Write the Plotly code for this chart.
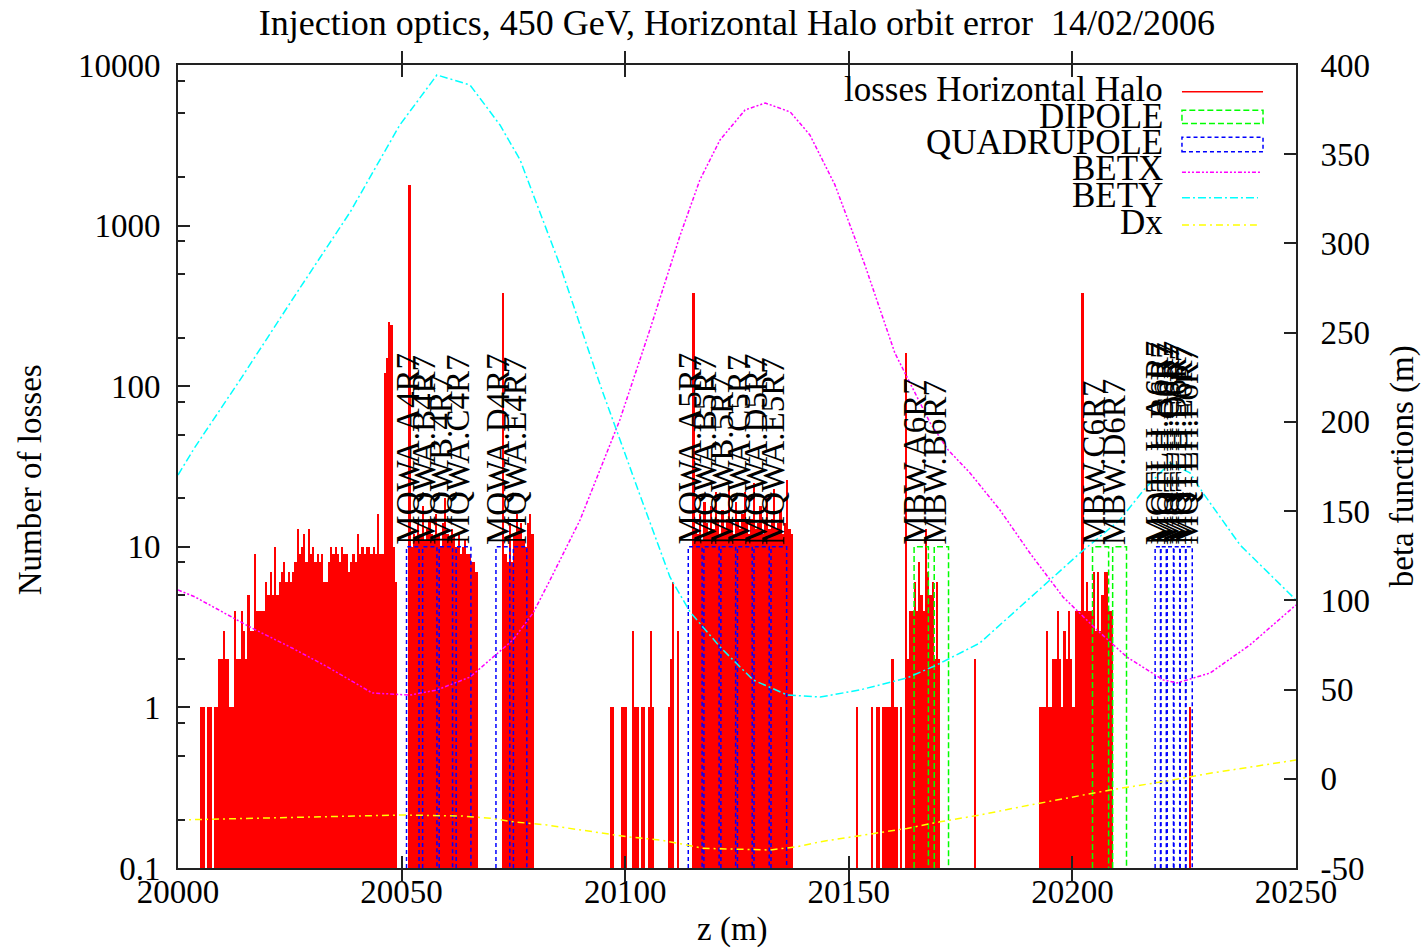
import math
import plotly.graph_objects as go

# ---------------- data ----------------
BIN = 0.5  # m, loss histogram bin width

# losses per 0.5 m bin; each list starts at the z given just above it
loss_start_a = 20005.0
loss_vals_a = [1, 1, 0, 1, 1, 0, 1, 1, 2, 2, 3, 2, 2, 1, 1,
               4, 2, 2, 4, 3, 2, 5, 3, 3, 9, 4, 4, 4, 4, 6, 5, 7, 5,
               10, 5, 6, 7, 8, 6, 7, 6, 7, 8, 13, 9, 10, 12, 8, 13, 9,
               10, 8, 9, 8, 9, 6, 6, 8, 10, 9, 10, 9, 8, 10, 9, 9, 7, 8, 9, 8, 12, 9, 10,
               9, 10, 10, 9, 10, 9, 16, 9, 9, 120, 150, 250, 240, 10, 6]
loss_start_b = 20051.5
loss_vals_b = [1800, 10, 12, 11, 14, 12, 18, 11, 13, 15, 12, 11, 16, 12, 10, 14,
               20, 12, 11, 13, 12, 10, 12, 9, 10, 11, 9, 9, 8, 8, 7]
loss_start_c = 20072.5
loss_vals_c = [380, 9, 8, 14, 8, 12, 16, 13, 14, 11, 10, 14, 16, 12]
loss_start_d = 20096.5
loss_vals_d = [1, 1, 0, 0, 0, 1, 1, 1, 0, 0, 3, 1, 1, 0, 1, 1, 0, 1, 3, 1,
               0, 0, 0, 0, 0, 0, 1, 2, 6, 0, 3]
loss_start_e = 20115.0
loss_vals_e = [380, 13, 12, 16, 11, 19, 14, 12, 18, 13, 22, 15, 12, 17, 13,
               15, 24, 14, 12, 19, 15, 13, 16, 22, 14, 12, 15, 25, 13, 14,
               18, 12, 14, 20, 13, 15, 23, 13, 14, 17, 12, 14, 26, 13, 12]
loss_start_f = 20151.5
loss_vals_f = [1, 0, 0, 0, 0, 0, 0, 1, 0, 1, 1, 0, 1, 1, 1, 1, 2, 1, 1, 0, 1, 0,
               160, 2, 4, 4, 6, 4, 8, 5, 4, 13, 7, 5, 6, 2, 6, 2]
loss_start_g = 20178.0
loss_vals_g = [2]
loss_start_h = 20192.5
loss_vals_h = [1, 1, 1, 3, 1, 1, 2, 2, 4, 2, 1, 3, 2, 4, 2, 1, 4, 4, 4, 380,
               4, 6, 4, 4, 7, 3, 7, 3, 5, 7, 7, 4, 4]
loss_start_i = 20226.0
loss_vals_i = [1]

# magnets
magnet_height = 10
quad_names = ["MQWA.A4R7", "MQWA.B4R7", "MQWB.4R7", "MQWA.C4R7", "MQWA.D4R7", "MQWA.E4R7",
              "MQWA.A5R7", "MQWA.B5R7", "MQWB.5R7", "MQWA.C5R7", "MQWA.D5R7", "MQWA.E5R7",
              "MQTLH.A6R7", "MQTLH.B6R7", "MQTLH.C6R7", "MQTLH.D6R7", "MQTLH.E6R7", "MQTLH.F6R7"]
quad_start = [20051.1, 20054.7, 20058.4, 20062.2, 20071.1, 20075.0,
              20114.1, 20117.6, 20121.4, 20125.1, 20128.8, 20132.6,
              20218.5, 20219.8, 20221.2, 20222.7, 20224.1, 20225.4]
quad_end = [20053.9, 20057.9, 20061.4, 20065.5, 20074.2, 20078.0,
            20117.2, 20121.0, 20124.7, 20128.4, 20132.2, 20136.1,
            20219.7, 20221.0, 20222.6, 20224.0, 20225.3, 20226.8]
dip_names = ["MBW.A6R7", "MBW.B6R7", "MBW.C6R7", "MBW.D6R7"]
dip_start = [20164.6, 20169.1, 20204.5, 20209.0]
dip_end = [20167.8, 20172.3, 20208.1, 20212.1]

# optics (right axis)
betx_z = [20000.0, 20003.8, 20016.5, 20025.5, 20033.5, 20043.4, 20051.9, 20057.9, 20065.3,
          20074.9, 20079.4, 20083.2, 20089.9, 20098.8, 20105.5, 20112.3, 20116.7, 20121.2,
          20126.8, 20131.3, 20136.9, 20141.3, 20146.9, 20153.6, 20160.3, 20168.2, 20172.2,
          20177.1, 20183.8, 20190.5, 20197.9, 20205.5, 20212.2, 20220.3, 20223.4, 20230.8,
          20239.7, 20250.0]
betx = [105.8, 101.9, 84.5, 73.3, 62.6, 48.1, 46.9, 49.8, 57.0,
        77.8, 92.9, 111.4, 145.0, 201.1, 251.5, 304.7, 335.6, 358.0,
        374.8, 378.7, 373.7, 360.8, 332.8, 287.9, 238.6, 199.4, 184.3,
        171.4, 150.6, 126.5, 101.9, 83.4, 68.2, 55.4, 53.7, 59.3,
        75.0, 97.4]
bety_z = [20000.0, 20003.8, 20014.0, 20025.5, 20038.5, 20049.6, 20057.9, 20065.3, 20072.0,
          20076.5, 20085.4, 20094.4, 20103.3, 20110.0, 20114.5, 20121.2, 20128.6, 20136.2,
          20143.6, 20152.5, 20163.0, 20169.7, 20179.3, 20190.5, 20195.0, 20201.7, 20210.6,
          20216.0, 20221.8, 20226.3, 20229.2, 20237.5, 20250.0]
bety = [170.2, 185.9, 224.0, 268.3, 317.6, 366.4, 394.4, 388.8, 366.4,
        346.8, 287.9, 220.7, 159.0, 113.1, 93.5, 73.9, 55.4, 47.0,
        45.8, 49.8, 56.5, 63.8, 76.1, 101.3, 111.4, 126.5, 145.0,
        162.0, 177.0, 171.4, 160.2, 131.0, 100.2]
dx_z = [20000.0, 20031.1, 20050.3, 20063.7, 20069.8, 20074.9, 20082.5, 20100.4, 20107.8,
        20113.8, 20117.4, 20132.4, 20138.4, 20143.6, 20163.0, 20170.4, 20179.3, 20190.5,
        20208.4, 20220.3, 20230.8, 20250.0]
dx = [-23.1, -21.3, -20.3, -20.9, -22.1, -24.1, -25.9, -32.5, -34.3,
      -37.1, -39.0, -39.9, -38.1, -35.3, -27.8, -24.1, -20.3, -14.7,
      -6.3, -1.6, 3.1, 10.5]

# axes
x_tick_vals = [20000, 20050, 20100, 20150, 20200, 20250]
x_tick_text = ["20000", "20050", "20100", "20150", "20200", "20250"]
y_tick_vals = [0.1, 1, 10, 100, 1000, 10000]
y_tick_text = ["0.1", "1", "10", "100", "1000", "10000"]
y_minor_vals = [m * 10 ** e for e in range(-1, 4) for m in (2, 5, 8)]
y2_tick_vals = [-50, 0, 50, 100, 150, 200, 250, 300, 350, 400]
y2_tick_text = [str(v) for v in y2_tick_vals]

title_text = "Injection optics, 450 GeV, Horizontal Halo orbit error \u00a014/02/2006"
legend_names = ["losses Horizontal Halo", "DIPOLE", "QUADRUPOLE", "BETX", "BETY", "Dx"]

# ---------------- figure ----------------
FONT = "Liberation Serif"
fig = go.Figure()

segments = [(loss_start_a, loss_vals_a), (loss_start_b, loss_vals_b), (loss_start_c, loss_vals_c),
            (loss_start_d, loss_vals_d), (loss_start_e, loss_vals_e), (loss_start_f, loss_vals_f),
            (loss_start_g, loss_vals_g), (loss_start_h, loss_vals_h), (loss_start_i, loss_vals_i)]
bx, by = [], []
for s, vals in segments:
    for i, v in enumerate(vals):
        if v > 0:
            bx.append(s + BIN * (i + 0.5))
            by.append(v)
fig.add_trace(go.Bar(x=bx, y=by, width=BIN, marker=dict(color="#ff0000", line=dict(width=0)),
                     showlegend=False, hoverinfo="skip"))


def boxes(starts, ends):
    xs, ys = [], []
    for s, e in zip(starts, ends):
        xs += [s, s, e, e, None]
        ys += [0.1, magnet_height, magnet_height, 0.1, None]
    return xs, ys


dxs, dys = boxes(dip_start, dip_end)
fig.add_trace(go.Scatter(x=dxs, y=dys, mode="lines", line=dict(color="#00ff00", width=1.5, dash="6px,3px"),
                         showlegend=False, hoverinfo="skip"))
qxs, qys = boxes(quad_start, quad_end)
fig.add_trace(go.Scatter(x=qxs, y=qys, mode="lines", line=dict(color="#0000ff", width=1.5, dash="4px,3px"),
                         showlegend=False, hoverinfo="skip"))

fig.add_trace(go.Scatter(x=betx_z, y=betx, yaxis="y2", mode="lines",
                         line=dict(color="#ff00ff", width=1.5, dash="4px,2px,2px,2px,2px,2px"), showlegend=False))
fig.add_trace(go.Scatter(x=bety_z, y=bety, yaxis="y2", mode="lines",
                         line=dict(color="#00ffff", width=1.5, dash="8px,3px,2px,3px"), showlegend=False))
fig.add_trace(go.Scatter(x=dx_z, y=dx, yaxis="y2", mode="lines",
                         line=dict(color="#ffff00", width=1.5, dash="7px,4px,2px,4px"), showlegend=False))

annotations = []
label_font = dict(family=FONT, size=33, color="black")
for name, s in list(zip(quad_names, quad_start)) + list(zip(dip_names, dip_start)):
    annotations.append(dict(x=s + 0.3, y=math.log10(magnet_height), xref="x", yref="y",
                            text=name, textangle=-90, showarrow=False, xanchor="center",
                            yanchor="bottom", font=label_font, yshift=0))

# axis titles
title_font = dict(family=FONT, size=33, color="black")
annotations.append(dict(x=-0.1324, y=0.484, xref="paper", yref="paper", text="Number of losses",
                        textangle=-90, showarrow=False, xanchor="center", yanchor="middle", font=title_font))
annotations.append(dict(x=1.0955, y=0.50, xref="paper", yref="paper", text="beta functions (m)",
                        textangle=-90, showarrow=False, xanchor="center", yanchor="middle", font=title_font))
annotations.append(dict(x=0.4964, y=-0.076, xref="paper", yref="paper", text="z (m)",
                        showarrow=False, xanchor="center", yanchor="middle", font=title_font))

# legend (manual, gnuplot style)
leg_y = [0.9689, 0.9356, 0.9035, 0.8705, 0.8369, 0.8039]
for name, yy in zip(legend_names, leg_y):
    annotations.append(dict(x=0.8828, y=yy, xref="paper", yref="paper", text=name, showarrow=False,
                            xanchor="right", yanchor="middle", font=dict(family=FONT, size=35, color="black")))
x0, x1 = 0.898, 0.9705
shapes = [
    dict(type="line", xref="paper", yref="paper", x0=x0, x1=x1, y0=0.9666, y1=0.9666,
         line=dict(color="#ff0000", width=1.5)),
    dict(type="rect", xref="paper", yref="paper", x0=x0, x1=x1, y0=0.9272, y1=0.9437,
         line=dict(color="#00ff00", width=1.5, dash="6px,3px")),
    dict(type="rect", xref="paper", yref="paper", x0=x0, x1=x1, y0=0.8920, y1=0.9100,
         line=dict(color="#0000ff", width=1.5, dash="4px,3px")),
    dict(type="line", xref="paper", yref="paper", x0=x0, x1=0.9678, y0=0.8664, y1=0.8664,
         line=dict(color="#ff00ff", width=1.5, dash="4px,2px,2px,2px,2px,2px")),
    dict(type="line", xref="paper", yref="paper", x0=x0, x1=0.966, y0=0.8347, y1=0.8347,
         line=dict(color="#00ffff", width=1.5, dash="8px,3px,2px,3px")),
    dict(type="line", xref="paper", yref="paper", x0=x0, x1=0.965, y0=0.8007, y1=0.8007,
         line=dict(color="#ffff00", width=1.5, dash="7px,4px,2px,4px")),
]

tickfont = dict(family=FONT, size=33, color="black")
fig.update_layout(
    width=1424, height=948,
    margin=dict(l=178, r=128, t=65, b=80),
    paper_bgcolor="white", plot_bgcolor="white",
    bargap=0,
    title=dict(text=title_text, x=0.5175, xanchor="center", y=1 - 22 / 948, yanchor="middle",
               yref="container", font=dict(family=FONT, size=36, color="black")),
    xaxis=dict(range=[20000, 20250], tickmode="array", tickvals=x_tick_vals, ticktext=x_tick_text,
               ticks="inside", ticklen=12, tickwidth=1.5, tickcolor="#222", showline=True,
               linecolor="#222", linewidth=2, mirror="allticks", showgrid=False, zeroline=False,
               tickfont=tickfont, ticklabelstandoff=-7),
    yaxis=dict(type="log", range=[-1, 4], tickmode="array", tickvals=y_tick_vals, ticktext=y_tick_text,
               ticks="inside", ticklen=12, tickwidth=1.5, tickcolor="#222", showline=True,
               linecolor="#222", linewidth=2, showgrid=False, zeroline=False, tickfont=tickfont,
               ticklabelstandoff=9,
               minor=dict(tickmode="array", tickvals=y_minor_vals, ticks="inside", ticklen=7,
                          tickcolor="#222", tickwidth=1.5, showgrid=False)),
    yaxis2=dict(overlaying="y", side="right", range=[-50, 400], tickmode="array", tickvals=y2_tick_vals,
                ticktext=y2_tick_text, ticks="inside", ticklen=12, tickwidth=1.5, tickcolor="#222",
                showline=True, linecolor="#222", linewidth=2, showgrid=False, zeroline=False,
                tickfont=tickfont, ticklabelstandoff=16),
    annotations=annotations,
    shapes=shapes,
    showlegend=False,
)

fig.write_html("out.html", config={"displayModeBar": False})
